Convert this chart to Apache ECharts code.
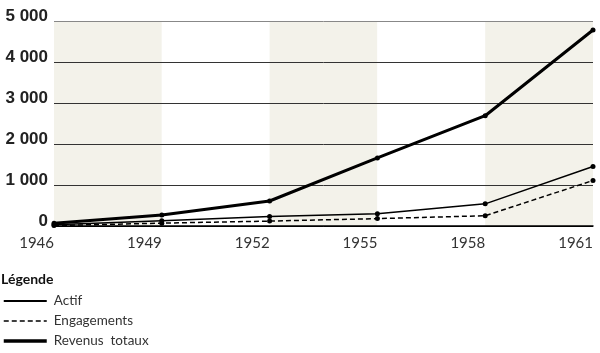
<!DOCTYPE html>
<html>
<head>
<meta charset="utf-8">
<script src="https://cdn.jsdelivr.net/npm/echarts@6/dist/echarts.min.js"></script>
<style>
  html, body { margin: 0; padding: 0; background: #fff; }
  #main { width: 600px; height: 353px; }
</style>
</head>
<body>
<div id="main"></div>
<script>
// années et séries
var annees = [1946, 1949, 1952, 1955, 1958, 1961];
var actif = [30, 130, 230, 300, 540, 1450];
var engagements = [10, 70, 120, 180, 250, 1110];
var revenusTotaux = [70, 270, 610, 1660, 2690, 4780];
var nomsSeries = ['Actif', 'Engagements', 'Revenus  totaux'];

function paires(vals) {
    return annees.map(function (a, i) { return [a, vals[i]]; });
}

// "5 000" au lieu de "5000"
function milliers(v) {
    return String(v).replace(/\B(?=(\d{3})+(?!\d))/g, ' ');
}

var myChart = echarts.init(document.getElementById('main'));

var option = {
    animation: false,
    backgroundColor: '#fff',
    title: {
        text: 'Légende',
        left: 1,
        top: 272,
        padding: 0,
        textStyle: { fontFamily: 'Lato', fontSize: 14, fontWeight: 'bold', color: '#111' }
    },
    legend: {
        data: [
            { name: nomsSeries[0], lineStyle: { width: 2 } },
            { name: nomsSeries[1], lineStyle: { width: 1.5 } },
            { name: nomsSeries[2], lineStyle: { width: 3.5 } }
        ],
        orient: 'vertical',
        left: 2,
        top: 294,
        padding: 0,
        itemWidth: 43,
        itemHeight: 2,
        itemGap: 6,
        itemStyle: { opacity: 0 },
        selectedMode: false,
        textStyle: { fontFamily: 'Lato', fontSize: 13.5, color: '#333', lineHeight: 14, padding: [0, 0, 0, 2] }
    },
    grid: { left: 54, right: 7, top: 21, bottom: 127, containLabel: false },
    xAxis: {
        type: 'value',
        min: 1946,
        max: 1961,
        interval: 3,
        z: 0,
        axisLine: { show: true, lineStyle: { color: '#000', width: 1.5 } },
        axisTick: { show: false },
        splitLine: { show: false },
        splitArea: { show: true, areaStyle: { color: ['#f3f2ea', '#ffffff'] } },
        axisLabel: {
            align: 'right',
            margin: 10,
            fontFamily: 'Lato',
            fontSize: 15,
            color: '#333',
            formatter: function (v) { return String(v); }
        }
    },
    yAxis: {
        type: 'value',
        min: 0,
        max: 5000,
        interval: 1000,
        z: 1,
        axisLine: { show: false },
        axisTick: { show: false },
        splitLine: { show: true, lineStyle: { color: ['#000', '#333', '#333', '#333', '#333', '#888'], width: 1 } },
        axisLabel: {
            margin: 6,
            fontFamily: 'Liberation Sans',
            fontSize: 17,
            fontWeight: 'bold',
            color: '#222',
            verticalAlign: 'bottom',
            lineHeight: 10,
            formatter: milliers
        }
    },
    series: [
        {
            name: nomsSeries[0],
            type: 'line',
            data: paires(actif),
            symbol: 'circle',
            symbolSize: 5,
            itemStyle: { color: '#000' },
            lineStyle: { color: '#000', width: 1.5 },
            z: 3
        },
        {
            name: nomsSeries[1],
            type: 'line',
            data: paires(engagements),
            symbol: 'circle',
            symbolSize: 5,
            itemStyle: { color: '#000' },
            lineStyle: { color: '#000', width: 1.5, type: [5, 3] },
            z: 3
        },
        {
            name: nomsSeries[2],
            type: 'line',
            data: paires(revenusTotaux),
            symbol: 'circle',
            symbolSize: 5,
            itemStyle: { color: '#000' },
            lineStyle: { color: '#000', width: 3 },
            z: 4
        }
    ]
};

myChart.setOption(option);
</script>
</body>
</html>
